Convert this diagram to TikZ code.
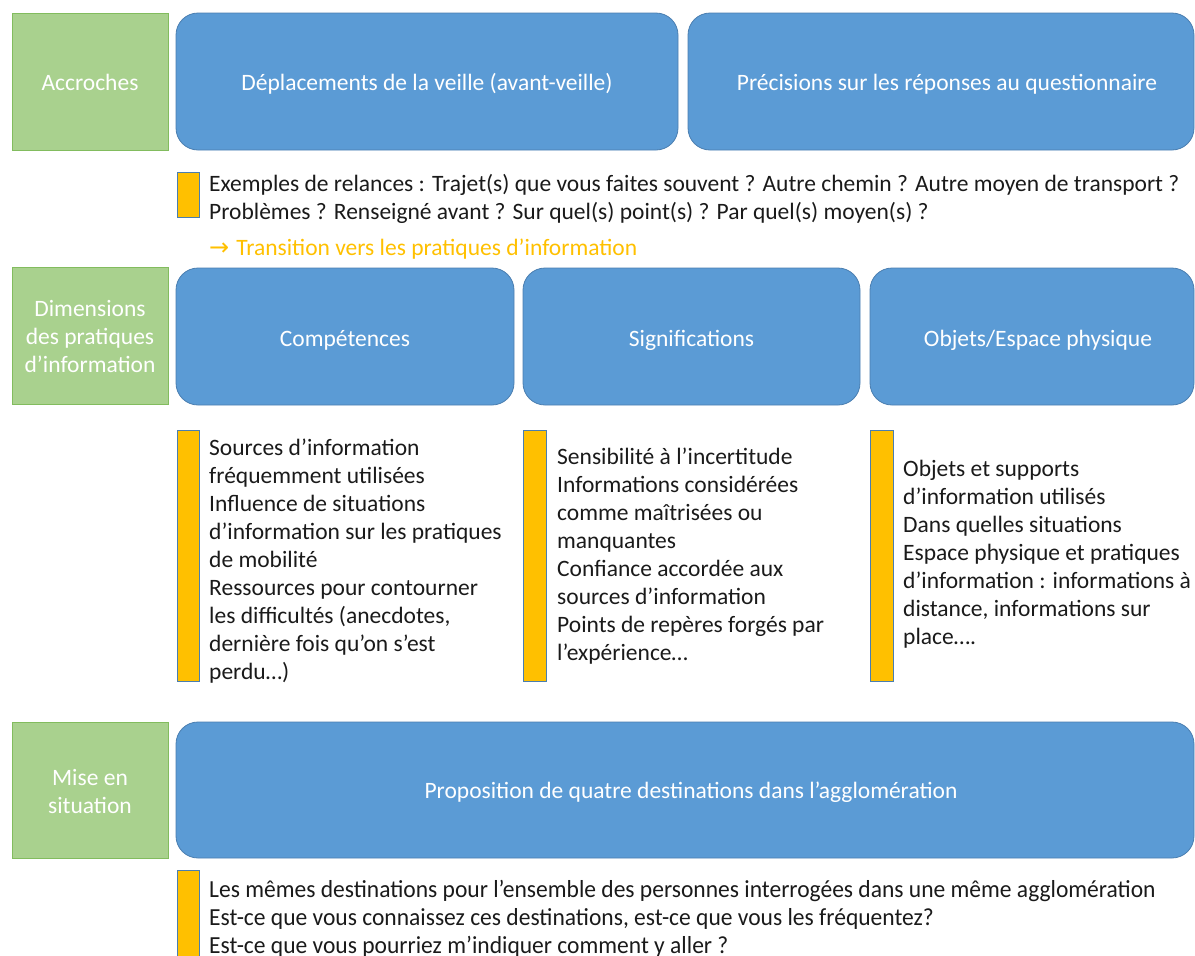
\documentclass[tikz,border=0pt]{standalone}
\usepackage{fontspec}
\setmainfont{Carlito}
\newfontfamily\arrowfont{DejaVu Sans}
\definecolor{gfill}{HTML}{A9D18E}
\definecolor{gline}{HTML}{82BC5E}
\definecolor{bfill}{HTML}{5B9BD5}
\definecolor{bline}{HTML}{4A7EB0}
\definecolor{yfill}{HTML}{FFC000}
\definecolor{tcol}{HTML}{1A1A1A}
\newcommand{\bline}[1]{\scalebox{0.96}[1]{\fontsize{24.5}{28}\selectfont #1}}
\begin{document}
\begin{tikzpicture}[x=1pt,y=-1pt,
  basefont/.style={font=\fontsize{23.5}{28}\selectfont},
  greenbox/.style={basefont, draw=gline, line width=0.8pt, fill=gfill, text=white, align=center, inner sep=0pt},
  bluebox/.style={basefont, draw=bline, line width=0.8pt, fill=bfill, text=white, align=center, rounded corners=22pt, inner sep=0pt},
  bluetext/.style={basefont, text=white, inner sep=0pt, anchor=base},
  ybar/.style={draw=bline, line width=0.6pt, fill=yfill, inner sep=0pt, minimum width=22pt},
  bodytext/.style={basefont, text=tcol, align=left, anchor=north west, inner sep=0pt}
]
\useasboundingbox (0,0) rectangle (1195,956);
\clip (0,0) rectangle (1195,956);
% Row 1
\node[greenbox, minimum width=156pt, minimum height=137pt] (g1) at (90,81.5) {};
\node[bluetext] (g1t) at (90,90) {Accroches};
\node[bluebox, minimum width=502pt, minimum height=137pt] (b1) at (427,81.5) {};
\node[bluetext] (b1t) at (427,90) {Déplacements de la veille (avant-veille)};
\node[bluebox, minimum width=506pt, minimum height=137pt] (b2) at (941,81.5) {};
\node[bluetext] (b2t) at (947,90) {Précisions sur les réponses au questionnaire};
\node[ybar, minimum height=45pt] (y1) at (188,194.5) {};
\node[bodytext] (t1) at (209,172) {\strut Exemples de relances : Trajet(s) que vous faites souvent ? Autre chemin ? Autre moyen de transport ?\\Problèmes ? Renseigné avant ? Sur quel(s) point(s) ? Par quel(s) moyen(s) ?};
\node[bodytext, text=yfill] (tr) at (209,235.5) {\strut{\arrowfont\fontsize{24}{28}\selectfont →}\hspace{7pt}Transition vers les pratiques d’information};
% Row 2
\node[greenbox, minimum width=156pt, minimum height=137pt] (g2) at (90,335.5) {};
\node[bluetext] (g2a) at (90,316) {Dimensions};
\node[bluetext] (g2b) at (90,344) {des pratiques};
\node[bluetext] (g2c) at (90,372) {d’information};
\node[bluebox, minimum width=338pt, minimum height=137pt] (c1) at (345,336.5) {};
\node[bluetext] (c1t) at (345,346) {Compétences};
\node[bluebox, minimum width=337pt, minimum height=137pt] (c2) at (691.5,336.5) {};
\node[bluetext] (c2t) at (691.5,346) {Significations};
\node[bluebox, minimum width=324pt, minimum height=137pt] (c3) at (1032,336.5) {};
\node[bluetext] (c3t) at (1038,346) {Objets/Espace physique};
\node[ybar, minimum height=251pt] (y2) at (188,555.5) {};
\node[ybar, minimum height=251pt, minimum width=23pt] (y3) at (534.5,555.5) {};
\node[ybar, minimum height=251pt, minimum width=23pt] (y4) at (881.5,555.5) {};
\node[bodytext] (t2) at (209,436) {\strut Sources d’information\\fréquemment utilisées\\Influence de situations\\d’information sur les pratiques\\de mobilité\\Ressources pour contourner\\les difficultés (anecdotes,\\dernière fois qu’on s’est\\perdu…)};
\node[bodytext] (t3) at (557,445) {\strut Sensibilité à l’incertitude\\Informations considérées\\comme maîtrisées ou\\manquantes\\Confiance accordée aux\\sources d’information\\Points de repères forgés par\\l’expérience…};
\node[bodytext] (t4) at (903,457) {\strut Objets et supports\\d’information utilisés\\Dans quelles situations\\Espace physique et pratiques\\d’information : informations à\\distance, informations sur\\place….};
% Row 3
\node[greenbox, minimum width=156pt, minimum height=136pt] (g3) at (90,790) {};
\node[bluetext] (g3a) at (90,785) {Mise en};
\node[bluetext] (g3b) at (90,813) {situation};
\node[bluebox, minimum width=1018pt, minimum height=136pt] (b4) at (685,790) {};
\node[bluetext] (b4t) at (691,798) {Proposition de quatre destinations dans l’agglomération};
\node[ybar, minimum height=100pt] (y5) at (188,920) {};
\node[bodytext] (t5) at (209,878) {\strut\bline{Les mêmes destinations pour l’ensemble des personnes interrogées dans une même agglomération}\\\bline{Est-ce que vous connaissez ces destinations, est-ce que vous les fréquentez?}\\\bline{Est-ce que vous pourriez m’indiquer comment y aller ?}};
\end{tikzpicture}
\end{document}
